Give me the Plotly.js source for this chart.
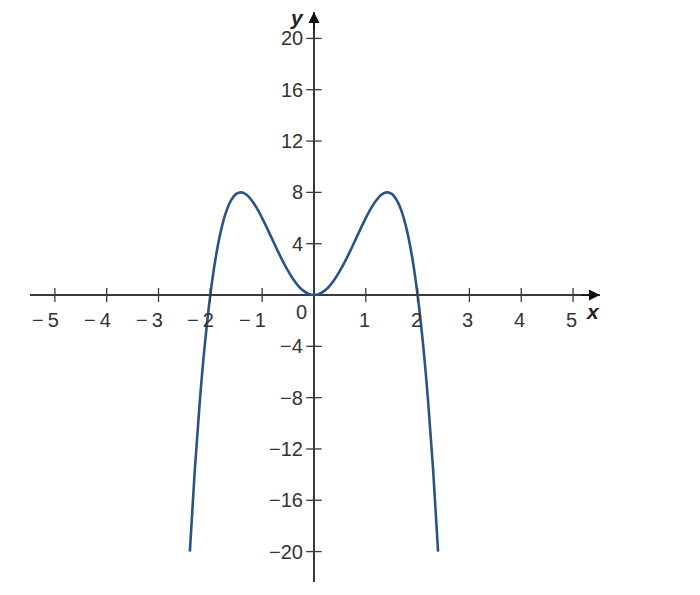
<!DOCTYPE html>
<html>
<head>
<meta charset="utf-8">
<script src="https://cdn.plot.ly/plotly-3.0.1.min.js"></script>
<style>html,body{margin:0;padding:0;background:#fff;}#chart{width:700px;height:595px;}</style>
</head>
<body>
<div id="chart"></div>
<script>
// Curve points
const curveX = [-2.395, -2.3, -2.2, -2.1, -2.0, -1.9, -1.8, -1.7, -1.6, -1.5, -1.4, -1.3, -1.2, -1.1, -1.0, -0.9, -0.8, -0.7, -0.6, -0.5, -0.4, -0.3, -0.2, -0.1, 0,
                0.1, 0.2, 0.3, 0.4, 0.5, 0.6, 0.7, 0.8, 0.9, 1.0, 1.1, 1.2, 1.3, 1.4, 1.5, 1.6, 1.7, 1.8, 1.9, 2.0, 2.1, 2.2, 2.3, 2.395];
const curveY = [-20, -13.65, -8.13, -3.62, 0, 2.82, 4.92, 6.42, 7.37, 7.88, 8.0, 7.81, 7.37, 6.75, 6.0, 5.17, 4.30, 3.44, 2.62, 1.88, 1.23, 0.70, 0.32, 0.08, 0,
                0.08, 0.32, 0.70, 1.23, 1.88, 2.62, 3.44, 4.30, 5.17, 6.0, 6.75, 7.37, 7.81, 8.0, 7.88, 7.37, 6.42, 4.92, 2.82, 0, -3.62, -8.13, -13.65, -20];

// Tick values and labels
const xTicks = [-5, -4, -3, -2, -1, 1, 2, 3, 4, 5];
const xTickLabels = ['\u2212\u20095', '\u2212\u20094', '\u2212\u20093', '\u2212\u20092', '\u2212\u20091', '1', '2', '3', '4', '5'];
const yTicks = [20, 16, 12, 8, 4, -4, -8, -12, -16, -20];
const yTickLabels = ['20', '16', '12', '8', '4', '\u22124', '\u22128', '\u221212', '\u221216', '\u221220'];

const xRange = [-5.48, 5.52];
const yRange = [-22.37, 22.06];

const axisColor = '#3a3a3a';
const textColor = '#333333';
const fontFam = '"Liberation Sans", Arial, sans-serif';

const traces = [
  {
    x: curveX, y: curveY, type: 'scatter', mode: 'lines',
    line: {color: '#2b5486', width: 2.6, shape: 'spline', smoothing: 1},
    hoverinfo: 'skip'
  },
  {
    x: xTicks, y: xTicks.map(() => 0), type: 'scatter', mode: 'markers',
    marker: {symbol: 'line-ns-open', size: 10, color: axisColor, line: {color: axisColor, width: 1.3}},
    hoverinfo: 'skip'
  },
  {
    x: yTicks.map(() => 0), y: yTicks, type: 'scatter', mode: 'markers',
    marker: {symbol: 'line-ew-open', size: 11, color: axisColor, line: {color: axisColor, width: 1.3}},
    hoverinfo: 'skip'
  }
];

const annotations = [];
xTicks.forEach((v, i) => {
  annotations.push({
    x: v, y: 0, xref: 'x', yref: 'y', text: xTickLabels[i], showarrow: false,
    xanchor: 'right', yanchor: 'middle', xshift: 6, yshift: -25,
    font: {family: fontFam, size: 20, color: textColor}
  });
});
yTicks.forEach((v, i) => {
  annotations.push({
    x: 0, y: v, xref: 'x', yref: 'y', text: yTickLabels[i], showarrow: false,
    xanchor: 'right', yanchor: 'middle', xshift: -9, yshift: 0,
    font: {family: fontFam, size: 20, color: textColor}
  });
});
annotations.push({
  x: 0, y: 0, xref: 'x', yref: 'y', text: '0', showarrow: false,
  xanchor: 'center', yanchor: 'middle', xshift: -12, yshift: -17,
  font: {family: fontFam, size: 20, color: textColor}
});
// axis arrows
annotations.push({
  x: xRange[1], y: 0, xref: 'x', yref: 'y', ax: -20, ay: 0, axref: 'pixel', ayref: 'pixel',
  text: '', showarrow: true, arrowhead: 2, arrowsize: 1.7, arrowwidth: 1.3, arrowcolor: '#111'
});
annotations.push({
  x: 0, y: yRange[1], xref: 'x', yref: 'y', ax: 0, ay: 20, axref: 'pixel', ayref: 'pixel',
  text: '', showarrow: true, arrowhead: 2, arrowsize: 1.7, arrowwidth: 1.3, arrowcolor: '#111'
});
// axis names
annotations.push({
  x: 5.39, y: -1.25, xref: 'x', yref: 'y', text: '<b><i>x</i></b>', showarrow: false,
  xanchor: 'center', yanchor: 'middle',
  font: {family: fontFam, size: 21, color: '#222'}
});
annotations.push({
  x: -0.33, y: 21.67, xref: 'x', yref: 'y', text: '<b><i>y</i></b>', showarrow: false,
  xanchor: 'center', yanchor: 'middle',
  font: {family: fontFam, size: 21, color: '#222'}
});

const layout = {
  width: 700, height: 595,
  margin: {l: 30, r: 100, t: 12, b: 13},
  paper_bgcolor: '#ffffff', plot_bgcolor: '#ffffff',
  showlegend: false,
  xaxis: {
    range: xRange, showgrid: false, showticklabels: false, ticks: '',
    zeroline: true, zerolinecolor: axisColor, zerolinewidth: 1.4, showline: false, fixedrange: true
  },
  yaxis: {
    range: yRange, showgrid: false, showticklabels: false, ticks: '',
    zeroline: true, zerolinecolor: axisColor, zerolinewidth: 1.4, showline: false, fixedrange: true
  },
  annotations: annotations
};

Plotly.newPlot('chart', traces, layout, {displayModeBar: false, staticPlot: true});
</script>
</body>
</html>
